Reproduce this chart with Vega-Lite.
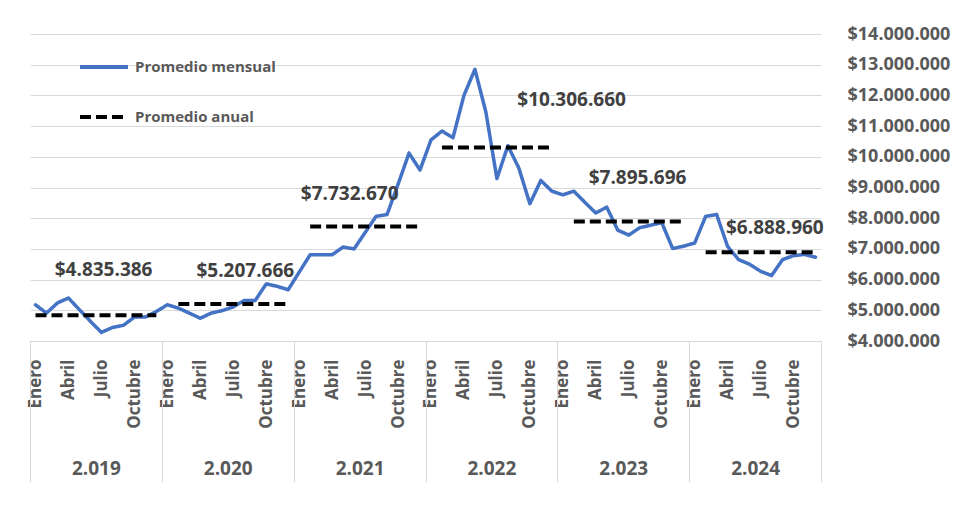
{
  "$schema": "https://vega.github.io/schema/vega-lite/v6.json",
  "width": 791,
  "height": 307,
  "autosize": {"type": "none"},
  "padding": {"left": 30, "top": 34, "right": 140, "bottom": 186},
  "background": "white",
  "config": {
    "locale": {"number": {"decimal": ",", "thousands": ".", "grouping": [3], "currency": ["$", ""]}},
    "view": {"stroke": null},
    "font": "Open Sans",
    "axis": {"labelFont": "Open Sans", "labelFontWeight": "bold", "labelColor": "#595959"},
    "legend": {"padding": 0}
  },
  "datasets": {
    "mensual": [
      {"anio": 2019, "mes": 1, "indice": 0, "valor": 5180000},
      {"anio": 2019, "mes": 2, "indice": 1, "valor": 4910000},
      {"anio": 2019, "mes": 3, "indice": 2, "valor": 5240000},
      {"anio": 2019, "mes": 4, "indice": 3, "valor": 5400000},
      {"anio": 2019, "mes": 5, "indice": 4, "valor": 5020000},
      {"anio": 2019, "mes": 6, "indice": 5, "valor": 4640000},
      {"anio": 2019, "mes": 7, "indice": 6, "valor": 4280000},
      {"anio": 2019, "mes": 8, "indice": 7, "valor": 4440000},
      {"anio": 2019, "mes": 9, "indice": 8, "valor": 4510000},
      {"anio": 2019, "mes": 10, "indice": 9, "valor": 4780000},
      {"anio": 2019, "mes": 11, "indice": 10, "valor": 4780000},
      {"anio": 2019, "mes": 12, "indice": 11, "valor": 4960000},
      {"anio": 2020, "mes": 1, "indice": 12, "valor": 5180000},
      {"anio": 2020, "mes": 2, "indice": 13, "valor": 5070000},
      {"anio": 2020, "mes": 3, "indice": 14, "valor": 4910000},
      {"anio": 2020, "mes": 4, "indice": 15, "valor": 4740000},
      {"anio": 2020, "mes": 5, "indice": 16, "valor": 4910000},
      {"anio": 2020, "mes": 6, "indice": 17, "valor": 4990000},
      {"anio": 2020, "mes": 7, "indice": 18, "valor": 5110000},
      {"anio": 2020, "mes": 8, "indice": 19, "valor": 5320000},
      {"anio": 2020, "mes": 9, "indice": 20, "valor": 5320000},
      {"anio": 2020, "mes": 10, "indice": 21, "valor": 5860000},
      {"anio": 2020, "mes": 11, "indice": 22, "valor": 5780000},
      {"anio": 2020, "mes": 12, "indice": 23, "valor": 5670000},
      {"anio": 2021, "mes": 1, "indice": 24, "valor": 6240000},
      {"anio": 2021, "mes": 2, "indice": 25, "valor": 6810000},
      {"anio": 2021, "mes": 3, "indice": 26, "valor": 6810000},
      {"anio": 2021, "mes": 4, "indice": 27, "valor": 6810000},
      {"anio": 2021, "mes": 5, "indice": 28, "valor": 7060000},
      {"anio": 2021, "mes": 6, "indice": 29, "valor": 7000000},
      {"anio": 2021, "mes": 7, "indice": 30, "valor": 7530000},
      {"anio": 2021, "mes": 8, "indice": 31, "valor": 8060000},
      {"anio": 2021, "mes": 9, "indice": 32, "valor": 8120000},
      {"anio": 2021, "mes": 10, "indice": 33, "valor": 9100000},
      {"anio": 2021, "mes": 11, "indice": 34, "valor": 10120000},
      {"anio": 2021, "mes": 12, "indice": 35, "valor": 9570000},
      {"anio": 2022, "mes": 1, "indice": 36, "valor": 10550000},
      {"anio": 2022, "mes": 2, "indice": 37, "valor": 10840000},
      {"anio": 2022, "mes": 3, "indice": 38, "valor": 10620000},
      {"anio": 2022, "mes": 4, "indice": 39, "valor": 12000000},
      {"anio": 2022, "mes": 5, "indice": 40, "valor": 12850000},
      {"anio": 2022, "mes": 6, "indice": 41, "valor": 11450000},
      {"anio": 2022, "mes": 7, "indice": 42, "valor": 9290000},
      {"anio": 2022, "mes": 8, "indice": 43, "valor": 10360000},
      {"anio": 2022, "mes": 9, "indice": 44, "valor": 9630000},
      {"anio": 2022, "mes": 10, "indice": 45, "valor": 8470000},
      {"anio": 2022, "mes": 11, "indice": 46, "valor": 9230000},
      {"anio": 2022, "mes": 12, "indice": 47, "valor": 8880000},
      {"anio": 2023, "mes": 1, "indice": 48, "valor": 8760000},
      {"anio": 2023, "mes": 2, "indice": 49, "valor": 8880000},
      {"anio": 2023, "mes": 3, "indice": 50, "valor": 8520000},
      {"anio": 2023, "mes": 4, "indice": 51, "valor": 8170000},
      {"anio": 2023, "mes": 5, "indice": 52, "valor": 8360000},
      {"anio": 2023, "mes": 6, "indice": 53, "valor": 7610000},
      {"anio": 2023, "mes": 7, "indice": 54, "valor": 7450000},
      {"anio": 2023, "mes": 8, "indice": 55, "valor": 7690000},
      {"anio": 2023, "mes": 9, "indice": 56, "valor": 7770000},
      {"anio": 2023, "mes": 10, "indice": 57, "valor": 7860000},
      {"anio": 2023, "mes": 11, "indice": 58, "valor": 7010000},
      {"anio": 2023, "mes": 12, "indice": 59, "valor": 7090000},
      {"anio": 2024, "mes": 1, "indice": 60, "valor": 7190000},
      {"anio": 2024, "mes": 2, "indice": 61, "valor": 8060000},
      {"anio": 2024, "mes": 3, "indice": 62, "valor": 8120000},
      {"anio": 2024, "mes": 4, "indice": 63, "valor": 7080000},
      {"anio": 2024, "mes": 5, "indice": 64, "valor": 6650000},
      {"anio": 2024, "mes": 6, "indice": 65, "valor": 6500000},
      {"anio": 2024, "mes": 7, "indice": 66, "valor": 6270000},
      {"anio": 2024, "mes": 8, "indice": 67, "valor": 6130000},
      {"anio": 2024, "mes": 9, "indice": 68, "valor": 6650000},
      {"anio": 2024, "mes": 10, "indice": 69, "valor": 6780000},
      {"anio": 2024, "mes": 11, "indice": 70, "valor": 6820000},
      {"anio": 2024, "mes": 12, "indice": 71, "valor": 6730000}
    ],
    "anual": [
      {"anio": 2019, "inicio": 0, "fin": 11, "valor": 4835386, "etiqueta": "$4.835.386", "xetiqueta": 6.2},
      {"anio": 2020, "inicio": 13, "fin": 23, "valor": 5207666, "etiqueta": "$5.207.666", "xetiqueta": 19.1},
      {"anio": 2021, "inicio": 25, "fin": 35, "valor": 7732670, "etiqueta": "$7.732.670", "xetiqueta": 28.6},
      {"anio": 2022, "inicio": 37, "fin": 47, "valor": 10306660, "etiqueta": "$10.306.660", "xetiqueta": 48.8},
      {"anio": 2023, "inicio": 49, "fin": 59, "valor": 7895696, "etiqueta": "$7.895.696", "xetiqueta": 54.8},
      {"anio": 2024, "inicio": 61, "fin": 71, "valor": 6888960, "etiqueta": "$6.888.960", "xetiqueta": 67.3}
    ]
  },
  "encoding": {
    "y": {
      "field": "valor", "type": "quantitative",
      "scale": {"domain": [4000000, 14000000], "nice": false, "zero": false},
      "axis": {
        "orient": "right",
        "values": [4000000, 5000000, 6000000, 7000000, 8000000, 9000000, 10000000, 11000000, 12000000, 13000000, 14000000],
        "format": "$,.0f", "grid": true, "gridColor": "#d9d9d9", "gridWidth": 1,
        "ticks": false, "domain": false, "labelPadding": 26, "labelFontSize": 18, "title": null
      }
    }
  },
  "layer": [
    {
      "data": {"name": "mensual"},
      "mark": {"type": "line", "strokeWidth": 3.5, "strokeJoin": "round", "strokeCap": "round"},
      "encoding": {
        "x": {
          "field": "indice", "type": "quantitative",
          "scale": {"domain": [-0.5, 71.5], "nice": false, "zero": false},
          "axis": {
            "orient": "bottom",
            "values": [0, 3, 6, 9, 12, 15, 18, 21, 24, 27, 30, 33, 36, 39, 42, 45, 48, 51, 54, 57, 60, 63, 66, 69],
            "labelExpr": "['Enero','Abril','Julio','Octubre'][round((datum.value % 12) / 3)]",
            "labelAngle": -90, "labelFontSize": 17, "labelPadding": 18,
            "ticks": false, "domain": true, "domainColor": "#d9d9d9", "domainWidth": 1,
            "grid": false, "title": null, "labelFlush": false, "labelOverlap": false, "labelBound": false
          }
        },
        "color": {
          "datum": "Promedio mensual", "type": "nominal",
          "scale": {"domain": ["Promedio mensual", "Promedio anual"], "range": ["#4472C4", "#000000"]},
          "legend": {
            "orient": "none", "legendX": 48, "legendY": 7, "title": null,
            "symbolType": "stroke", "symbolSize": 2304, "symbolStrokeWidth": 4,
            "labelFont": "Open Sans", "labelFontSize": 15, "labelFontWeight": "bold", "labelColor": "#595959",
            "rowPadding": 16, "labelOffset": 5
          }
        },
        "strokeDash": {
          "datum": "Promedio mensual", "type": "nominal",
          "scale": {"domain": ["Promedio mensual", "Promedio anual"], "range": [[1, 0], [11, 5]]},
          "legend": {
            "orient": "none", "legendX": 48, "legendY": 7, "title": null,
            "symbolType": "stroke", "symbolSize": 2304, "symbolStrokeWidth": 4,
            "labelFont": "Open Sans", "labelFontSize": 15, "labelFontWeight": "bold", "labelColor": "#595959",
            "rowPadding": 16, "labelOffset": 5
          }
        }
      }
    },
    {
      "data": {"name": "anual"},
      "mark": {"type": "rule", "strokeWidth": 4, "strokeCap": "butt"},
      "encoding": {
        "x": {
          "field": "inicio", "type": "quantitative",
          "scale": {"domain": [-0.5, 71.5], "nice": false, "zero": false},
          "axis": {
            "orient": "bottom",
            "values": [-0.5, 11.5, 23.5, 35.5, 47.5, 59.5, 71.5],
            "ticks": true, "tickSize": 141, "tickColor": "#d9d9d9", "tickWidth": 1,
            "labels": false, "domain": false, "grid": false, "title": null
          }
        },
        "x2": {"field": "fin"},
        "color": {"datum": "Promedio anual", "type": "nominal"},
        "strokeDash": {"datum": "Promedio anual", "type": "nominal"}
      }
    },
    {
      "data": {"name": "anual"},
      "transform": [{"filter": "datum.anio == 2019"}],
      "mark": {"type": "text", "font": "Open Sans", "fontWeight": "bold", "fontSize": 19, "fill": "#404040", "baseline": "middle", "dy": -45},
      "encoding": {
        "x": {
          "field": "xetiqueta", "type": "quantitative",
          "scale": {"domain": [-0.5, 71.5], "nice": false, "zero": false},
          "axis": {
            "orient": "bottom",
            "values": [5.5, 17.5, 29.5, 41.5, 53.5, 65.5],
            "labelExpr": "'2.0' + (19 + floor(datum.value / 12))",
            "ticks": false, "domain": false, "grid": false, "labelFontSize": 19, "labelPadding": 118,
            "title": null, "labelFlush": false, "labelOverlap": false
          }
        },
        "text": {"field": "etiqueta"}
      }
    },
    {
      "data": {"name": "anual"},
      "transform": [{"filter": "datum.anio == 2020"}],
      "mark": {"type": "text", "font": "Open Sans", "fontWeight": "bold", "fontSize": 19, "fill": "#404040", "baseline": "middle", "dy": -33},
      "encoding": {
        "x": {"field": "xetiqueta", "type": "quantitative", "scale": {"domain": [-0.5, 71.5], "nice": false, "zero": false}, "axis": null},
        "text": {"field": "etiqueta"}
      }
    },
    {
      "data": {"name": "anual"},
      "transform": [{"filter": "datum.anio == 2021"}],
      "mark": {"type": "text", "font": "Open Sans", "fontWeight": "bold", "fontSize": 19, "fill": "#404040", "baseline": "middle", "dy": -32},
      "encoding": {
        "x": {"field": "xetiqueta", "type": "quantitative", "scale": {"domain": [-0.5, 71.5], "nice": false, "zero": false}, "axis": null},
        "text": {"field": "etiqueta"}
      }
    },
    {
      "data": {"name": "anual"},
      "transform": [{"filter": "datum.anio == 2022"}],
      "mark": {"type": "text", "font": "Open Sans", "fontWeight": "bold", "fontSize": 19, "fill": "#404040", "baseline": "middle", "dy": -47},
      "encoding": {
        "x": {"field": "xetiqueta", "type": "quantitative", "scale": {"domain": [-0.5, 71.5], "nice": false, "zero": false}, "axis": null},
        "text": {"field": "etiqueta"}
      }
    },
    {
      "data": {"name": "anual"},
      "transform": [{"filter": "datum.anio == 2023"}],
      "mark": {"type": "text", "font": "Open Sans", "fontWeight": "bold", "fontSize": 19, "fill": "#404040", "baseline": "middle", "dy": -43},
      "encoding": {
        "x": {"field": "xetiqueta", "type": "quantitative", "scale": {"domain": [-0.5, 71.5], "nice": false, "zero": false}, "axis": null},
        "text": {"field": "etiqueta"}
      }
    },
    {
      "data": {"name": "anual"},
      "transform": [{"filter": "datum.anio == 2024"}],
      "mark": {"type": "text", "font": "Open Sans", "fontWeight": "bold", "fontSize": 19, "fill": "#404040", "baseline": "middle", "dy": -24},
      "encoding": {
        "x": {"field": "xetiqueta", "type": "quantitative", "scale": {"domain": [-0.5, 71.5], "nice": false, "zero": false}, "axis": null},
        "text": {"field": "etiqueta"}
      }
    }
  ],
  "resolve": {"axis": {"x": "independent"}}
}
